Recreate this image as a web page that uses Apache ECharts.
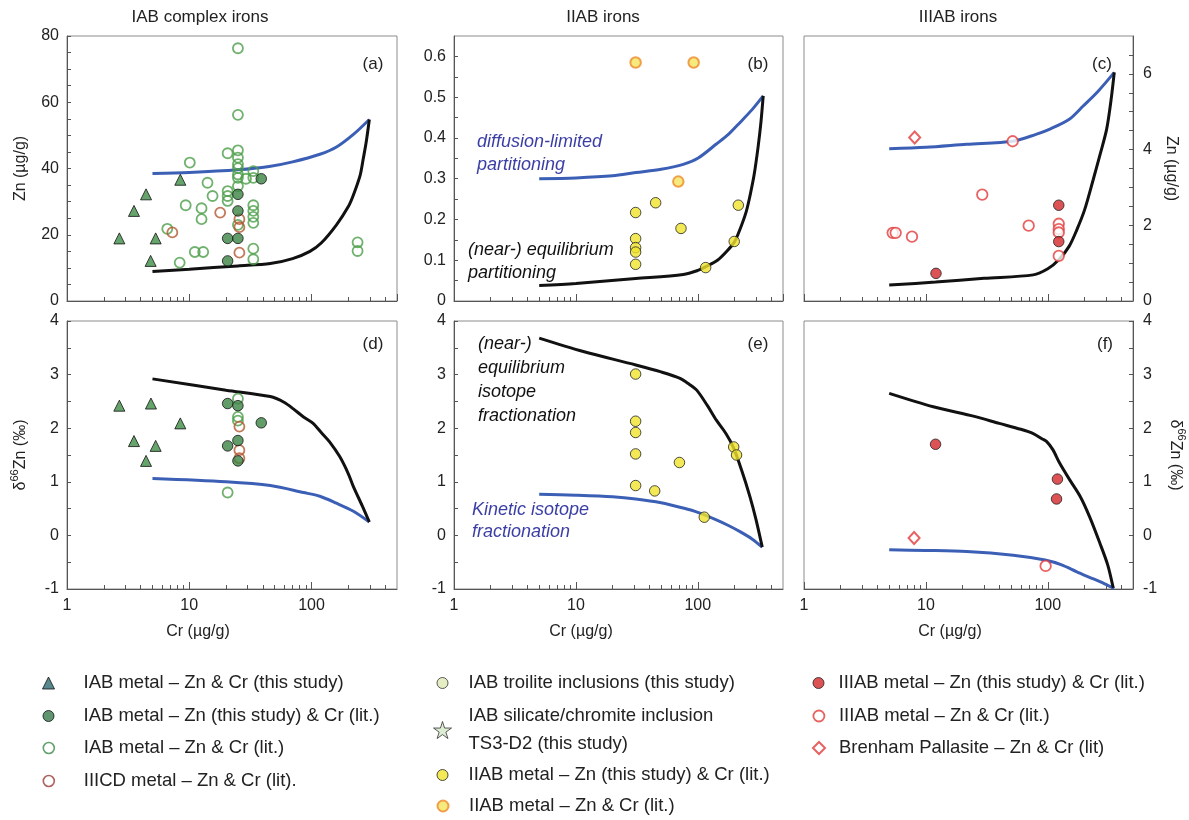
<!DOCTYPE html>
<html><head><meta charset="utf-8">
<script src="https://cdn.jsdelivr.net/npm/echarts@6/dist/echarts.min.js"></script>
<style>html,body{margin:0;padding:0;background:#fff}#c{width:1189px;height:820px}</style>
</head><body><div id="c"></div>
<script>
// ---------------- DATA (Cr µg/g, value) ----------------
// Panel (a) IAB complex irons, Zn µg/g
const iabTriZn = [[2.68,18.9],[3.53,27.2],[4.43,32.2],[5.31,18.9],[4.83,12.1],[8.45,36.6]];
const iabFilledZn = [[38.8,36.9],[25,32.2],[25,27.2],[20.6,18.9],[25,18.9],[20.6,12.1]];
const iabOpenZn = [[25,76.3],[25,56.2],[20.6,44.6],[25,45.5],[25,43.3],[25,41.3],[25,40.1],[25,38.2],[25,37.2],[25,34.7],
  [29.1,36.9],[33.4,39.2],[33.4,37.2],[10.1,41.8],[14.1,35.7],[15.5,31.7],[20.6,33.2],[20.6,31.7],[20.6,30.2],[25,23.0],
  [9.35,28.9],[12.6,28.0],[12.6,24.7],[6.61,21.8],[11.1,14.8],[13.0,14.8],[8.35,11.6],[33.4,28.9],[33.4,27.2],[33.4,25.4],
  [33.4,23.6],[33.4,15.8],[33.4,12.6],[238,17.7],[238,15.1]];
const iiicdZn = [[7.27,20.7],[17.9,26.7],[25.7,24.7],[25.7,22.3],[25.7,14.6]];
const diffCurveA = [[5,38.5],[10,38.8],[25,39.6],[45,40.6],[70,42],[117,44.3],[160,46.5],[220,50.3],[297,54.8]];
const equilCurveA = [[5,8.9],[10,9.6],[25,10.6],[46,11.3],[70,12.8],[97,15],[120,17.5],[160,23],[200,28.5],[220,32],[250,38],[265,43],[280,48],[297,54.8]];

// Panel (d) IAB, δ66Zn ‰
const iabTriD = [[2.68,2.42],[4.86,2.46],[8.45,2.09],[3.53,1.76],[5.31,1.67],[4.43,1.39]];
const iabFilledD = [[20.6,2.46],[25,2.42],[38.8,2.10],[20.6,1.67],[25,1.77],[25,1.39]];
const iabOpenD = [[25,2.55],[25,2.21],[25,2.14],[20.6,0.80]];
const iiicdD = [[25.7,2.03],[25.7,1.59],[25.7,1.44]];
const equilCurveD = [[5,2.92],[20,2.71],[46,2.59],[60,2.48],[71,2.36],[86,2.21],[103,2.09],[120,1.92],[140,1.75],[170,1.47],[200,1.15],[220,0.91],[260,0.55],[297,0.25]];
const kinCurveD = [[5,1.06],[20,1.0],[46,0.93],[86,0.8],[117,0.73],[160,0.6],[220,0.45],[297,0.25]];

// Panel (b) IIAB, Zn µg/g
const iiabZn = [[30.9,0.217],[30.9,0.153],[30.9,0.131],[30.9,0.120],[30.9,0.090],[45.1,0.241],[72.8,0.178],[215,0.235],[199,0.146],[116,0.082]];
const iiabLitZn = [[30.9,0.585],[92.5,0.585],[69.2,0.293]];
const diffCurveB = [[5,0.30],[10,0.302],[20,0.307],[31,0.315],[50,0.323],[76,0.335],[100,0.35],[142,0.385],[180,0.41],[222,0.438],[280,0.47],[344,0.503]];
const equilCurveB = [[5,0.038],[10,0.043],[31,0.055],[76,0.065],[100,0.075],[116,0.084],[145,0.1],[173,0.122],[200,0.145],[222,0.176],[250,0.22],[268,0.258],[290,0.31],[313,0.38],[330,0.44],[344,0.503]];

// Panel (e) IIAB, δ66Zn ‰
const iiabD = [[30.9,3.01],[30.9,2.13],[30.9,1.92],[30.9,1.52],[30.9,0.93],[44.3,0.83],[70.7,1.36],[197,1.65],[208,1.50],[113,0.34]];
const equilCurveE = [[5,3.68],[11.5,3.43],[31,3.18],[50,3.05],[71.5,2.93],[85,2.82],[98,2.71],[120,2.42],[142,2.15],[170,1.9],[195,1.65],[230,1.2],[268,0.72],[300,0.3],[338,-0.22]];
const kinCurveE = [[5,0.77],[10,0.75],[20,0.72],[31,0.68],[50,0.61],[76,0.51],[100,0.43],[142,0.29],[180,0.18],[222,0.07],[280,-0.07],[338,-0.22]];

// Panel (c) IIIAB, Zn µg/g
const iiiabFilledZn = [[123,2.53],[123,1.57],[12.1,0.73]];
const iiiabOpenZn = [[51.5,4.22],[29,2.81],[5.34,1.80],[5.65,1.80],[7.69,1.70],[69.7,1.99],[123,2.04],[123,1.90],[123,1.81],[123,1.19]];
const brenhamZn = [[8.09,4.32]];
const diffCurveC = [[5,4.02],[10,4.06],[21.6,4.14],[51.5,4.22],[80,4.4],[104,4.54],[150,4.8],[195,5.15],[260,5.55],[351,6.04]];
const equilCurveC = [[5,0.42],[12,0.5],[30,0.6],[76,0.69],[100,0.85],[123,1.09],[150,1.45],[173,1.88],[200,2.4],[236,3.21],[270,3.9],[304,4.54],[330,5.3],[351,6.04]];

// Panel (f) IIIAB, δ66Zn ‰
const iiiabFilledD = [[12.0,1.70],[120,1.05],[118,0.68]];
const iiiabOpenD = [[96,-0.57]];
const brenhamD = [[8.0,-0.05]];
const equilCurveF = [[5,2.65],[11.5,2.4],[25,2.22],[40,2.09],[60,1.98],[76,1.9],[90,1.8],[98,1.75],[110,1.6],[125,1.35],[150,1.05],[184,0.73],[220,0.35],[268,-0.15],[310,-0.55],[344,-0.98]];
const kinCurveF = [[5,-0.27],[10,-0.28],[21.6,-0.30],[52,-0.37],[95,-0.46],[130,-0.55],[173,-0.68],[230,-0.8],[290,-0.9],[351,-0.99]];

// ---------------- TICKS / LABELS ----------------
const minorXTicks = [2,3,4,5,6,7,8,9,20,30,40,50,60,70,80,90,200,300,400];
const ticksA = [0,5,10,15,20,25,30,35,40,45,50,55,60,65,70,75,80];
const ticksB = [0,0.05,0.1,0.15,0.2,0.25,0.3,0.35,0.4,0.45,0.5,0.55,0.6,0.65];
const ticksC = [0,0.5,1,1.5,2,2.5,3,3.5,4,4.5,5,5.5,6,6.5,7];
const ticksIso = [-1,-0.5,0,0.5,1,1.5,2,2.5,3,3.5,4];
const columnTitles = ['IAB complex irons','IIAB irons','IIIAB irons'];
const panelLabels = ['(a)','(b)','(c)','(d)','(e)','(f)'];

const N1='IAB metal – Zn & Cr (this study)', N2='IAB metal – Zn (this study) & Cr (lit.)', N3='IAB metal – Zn & Cr (lit.)',
      N4='IIICD metal – Zn & Cr (lit).', N5='IAB troilite inclusions (this study)', N6='IAB silicate/chromite inclusion TS3-D2 (this study)',
      N7='IIAB metal – Zn (this study) & Cr (lit.)', N8='IIAB metal – Zn & Cr (lit.)', N9='IIIAB metal – Zn (this study) & Cr (lit.)',
      N10='IIIAB metal – Zn & Cr (lit.)', N11='Brenham Pallasite – Zn & Cr (lit)';

// ---------------- CHART ----------------
const FF = "'Liberation Sans', Arial, Helvetica, sans-serif";
const chart = echarts.init(document.getElementById('c'), null, {renderer:'canvas'});

const gridBoxes = [
  {left:67, top:36, width:330, height:265},
  {left:454, top:36, width:329, height:265},
  {left:804, top:36, width:329, height:265},
  {left:67, top:321, width:330, height:268},
  {left:454, top:321, width:329, height:268},
  {left:804, top:321, width:329, height:268}
];
const grid = gridBoxes.map(g => Object.assign({show:true, borderColor:'#8c8c8c', borderWidth:1, backgroundColor:'transparent', containLabel:false}, g));

const xAxis = [];
for (let i=0;i<6;i++){
  xAxis.push({type:'log', logBase:10, gridIndex:i, min:1, max:500, position:'bottom',
    axisLine:{show:true, onZero:false, lineStyle:{color:'#555', width:1}},
    axisTick:{show:true, inside:true, length:7, lineStyle:{color:'#555'}},
    axisLabel:{show:i>=3, color:'#222', fontSize:16, fontFamily:FF, margin:9, showMaxLabel:false},
    splitLine:{show:false}});
}
for (let i=0;i<6;i++){
  xAxis.push({type:'log', logBase:10, gridIndex:i, min:1, max:500, position:'bottom',
    axisLine:{show:false, onZero:false},
    axisTick:{show:true, inside:true, length:4, customValues:minorXTicks, lineStyle:{color:'#555'}},
    axisLabel:{show:false}, splitLine:{show:false}});
}

const yBase = (gi, o) => Object.assign({type:'value', gridIndex:gi,
  axisLine:{show:true, onZero:false, lineStyle:{color:'#555'}},
  axisLabel:{color:'#222', fontSize:16, fontFamily:FF, margin:8},
  nameLocation:'middle', nameTextStyle:{color:'#222', fontSize:16, fontFamily:FF},
  splitLine:{show:false}}, o);
const isoName = '{n|δ}{s|66}{n|Zn (‰)}';
const isoRich = {n:{fontSize:16, fontFamily:FF, color:'#222', lineHeight:20, verticalAlign:'bottom'}, s:{fontSize:11, fontFamily:FF, color:'#222', lineHeight:20, verticalAlign:'top'}};
const yAxis = [
  yBase(0,{min:0, max:80, interval:20, name:'Zn (µg/g)', nameGap:38,
    axisTick:{show:true, inside:true, length:4, customValues:ticksA, lineStyle:{color:'#555'}}}),
  yBase(1,{min:0, max:0.65, interval:0.1,
    axisLabel:{color:'#222', fontSize:16, fontFamily:FF, margin:8, showMaxLabel:false},
    axisTick:{show:true, inside:true, length:4, customValues:ticksB, lineStyle:{color:'#555'}}}),
  yBase(2,{min:0, max:7, interval:2, position:'right', name:'Zn (µg/g)', nameGap:30, nameRotate:-90,
    axisLabel:{color:'#222', fontSize:16, fontFamily:FF, margin:10, showMaxLabel:false},
    axisTick:{show:true, inside:true, length:4, customValues:ticksC, lineStyle:{color:'#555'}}}),
  yBase(3,{min:-1, max:4, interval:1, name:isoName, nameGap:38, nameTextStyle:{rich:isoRich},
    axisTick:{show:true, inside:true, length:4, customValues:ticksIso, lineStyle:{color:'#555'}}}),
  yBase(4,{min:-1, max:4, interval:1,
    axisTick:{show:true, inside:true, length:4, customValues:ticksIso, lineStyle:{color:'#555'}}}),
  yBase(5,{min:-1, max:4, interval:1, position:'right', name:isoName, nameGap:34, nameRotate:-90, nameTextStyle:{rich:isoRich},
    axisLabel:{color:'#222', fontSize:16, fontFamily:FF, margin:10},
    axisTick:{show:true, inside:true, length:4, customValues:ticksIso, lineStyle:{color:'#555'}}})
];

const ST = {
  tri:{symbol:'triangle', symbolSize:11, itemStyle:{color:'#3e8e47', borderColor:'#111', borderWidth:1}},
  gFill:{symbol:'circle', symbolSize:10.5, itemStyle:{color:'#3b8543', borderColor:'#111', borderWidth:1}},
  gOpen:{symbol:'circle', symbolSize:10, itemStyle:{color:'rgba(255,255,255,0)', borderColor:'#4b9e49', borderWidth:1.8}},
  brown:{symbol:'circle', symbolSize:10, itemStyle:{color:'rgba(255,255,255,0)', borderColor:'#b4582f', borderWidth:1.8}},
  yel:{symbol:'circle', symbolSize:10.5, itemStyle:{color:'#f0e32c', borderColor:'#222', borderWidth:1}},
  yelLit:{symbol:'circle', symbolSize:10.5, itemStyle:{color:'#f4e35c', borderColor:'#ec8a2c', borderWidth:2}},
  rFill:{symbol:'circle', symbolSize:10.5, itemStyle:{color:'#d52729', borderColor:'#222', borderWidth:1}},
  rOpen:{symbol:'circle', symbolSize:10.5, itemStyle:{color:'#ffffff', borderColor:'#e23b3b', borderWidth:1.8}},
  diam:{symbol:'diamond', symbolSize:[11,12], itemStyle:{color:'#ffffff', borderColor:'#e23b3b', borderWidth:2}},
  trl:{symbol:'circle', symbolSize:10, itemStyle:{color:'#dfe9b4', borderColor:'#333', borderWidth:1}},
  star:{symbol:'path://M50,0 L61,35 L98,35 L68,57 L79,91 L50,70 L21,91 L32,57 L2,35 L39,35 Z', symbolSize:16, itemStyle:{color:'#d3e8c9', borderColor:'#333', borderWidth:1}}
};
const sc = (name, data, gi, st) => Object.assign({type:'scatter', name, data, xAxisIndex:gi, yAxisIndex:gi, z:3,
  emphasis:{disabled:true}}, JSON.parse(JSON.stringify(ST[st])));
const ln = (name, data, gi, color) => ({type:'line', name, data, xAxisIndex:gi, yAxisIndex:gi, z:2, symbol:'none', showSymbol:false,
  smooth:0.3, silent:true, lineStyle:{color, width:3}, emphasis:{disabled:true}});
const BLUE='#3c5fb6', BLACK='#111111';

const series = [
  ln('diffusion-limited partitioning', diffCurveA, 0, BLUE),
  ln('(near-) equilibrium partitioning', equilCurveA, 0, BLACK),
  sc(N3, iabOpenZn, 0, 'gOpen'), sc(N4, iiicdZn, 0, 'brown'), sc(N2, iabFilledZn, 0, 'gFill'), sc(N1, iabTriZn, 0, 'tri'),
  sc(N5, [], 0, 'trl'), sc(N6, [], 0, 'star'),
  ln('diffusion-limited partitioning', diffCurveB, 1, BLUE),
  ln('(near-) equilibrium partitioning', equilCurveB, 1, BLACK),
  sc(N7, iiabZn, 1, 'yel'), sc(N8, iiabLitZn, 1, 'yelLit'),
  ln('diffusion-limited partitioning', diffCurveC, 2, BLUE),
  ln('(near-) equilibrium partitioning', equilCurveC, 2, BLACK),
  sc(N10, iiiabOpenZn, 2, 'rOpen'), sc(N9, iiiabFilledZn, 2, 'rFill'), sc(N11, brenhamZn, 2, 'diam'),
  ln('Kinetic isotope fractionation', kinCurveD, 3, BLUE),
  ln('(near-) equilibrium isotope fractionation', equilCurveD, 3, BLACK),
  sc(N3, iabOpenD, 3, 'gOpen'), sc(N4, iiicdD, 3, 'brown'), sc(N2, iabFilledD, 3, 'gFill'), sc(N1, iabTriD, 3, 'tri'),
  ln('Kinetic isotope fractionation', kinCurveE, 4, BLUE),
  ln('(near-) equilibrium isotope fractionation', equilCurveE, 4, BLACK),
  sc(N7, iiabD, 4, 'yel'),
  ln('Kinetic isotope fractionation', kinCurveF, 5, BLUE),
  ln('(near-) equilibrium isotope fractionation', equilCurveF, 5, BLACK),
  sc(N10, iiiabOpenD, 5, 'rOpen'), sc(N9, iiiabFilledD, 5, 'rFill'), sc(N11, brenhamD, 5, 'diam')
];

// legend: one component per entry, placed in three columns
const legItems = [
  {name:N1, st:'tri', icon:'triangle', cx:48, cy:683, tx:83, size:12, ist:{color:'#2e6c72', borderColor:'#111', borderWidth:1}},
  {name:N2, st:'gFill', icon:'circle', cx:48, cy:716, tx:83, ist:{color:'#3a7a4c', borderColor:'#111', borderWidth:1}},
  {name:N3, st:'gOpen', icon:'circle', cx:48, cy:748, tx:83, ist:{color:'#fff', borderColor:'#3f8a4a', borderWidth:1.6}},
  {name:N4, st:'brown', icon:'circle', cx:48, cy:781, tx:83, ist:{color:'#fff', borderColor:'#9a3a36', borderWidth:1.6}},
  {name:N5, st:'trl', icon:'circle', cx:442, cy:683, tx:468},
  {name:N6, st:'star', icon:ST.star.symbol, cx:442, cy:730, tx:468, size:18, two:true},
  {name:N7, st:'yel', icon:'circle', cx:442, cy:775, tx:468},
  {name:N8, st:'yelLit', icon:'circle', cx:442, cy:806, tx:468},
  {name:N9, st:'rFill', icon:'circle', cx:818, cy:683, tx:838},
  {name:N10, st:'rOpen', icon:'circle', cx:818, cy:716, tx:838},
  {name:N11, st:'diam', icon:'diamond', cx:818, cy:748, tx:838, size:12}
];
const legend = legItems.map(it => {
  const s = it.size || 11;
  const lh = it.two ? 28 : 20;
  const h = it.two ? 2*lh : lh;
  return {
    data:[{name:it.name, icon:it.icon, itemStyle: it.ist || ST[it.st].itemStyle}],
    left: it.cx - s/2, top: it.cy - h/2, orient:'vertical', padding:0,
    itemWidth:s, itemHeight:s, selectedMode:false,
    formatter: n => it.two ? n.replace(' TS3', '\nTS3') : n,
    textStyle:{fontSize:18.5, fontFamily:FF, color:'#222', lineHeight:lh, padding:[0,0,0, it.tx - (it.cx + s/2) - 5]}
  };
});

const txt = (x, y, text, o) => ({type:'text', x, y, silent:true, style:Object.assign({text, fill:'#222', fontSize:17, fontFamily:FF,
  align:'center', verticalAlign:'middle', textAlign:'center', textVerticalAlign:'middle'}, o||{})});
const graphic = [
  txt(200, 17, columnTitles[0]), txt(603, 17, columnTitles[1]), txt(958, 17, columnTitles[2]),
  txt(373, 64, panelLabels[0]), txt(758, 64, panelLabels[1]), txt(1102, 64, panelLabels[2]),
  txt(373, 344, panelLabels[3]), txt(758, 344, panelLabels[4]), txt(1105, 344, panelLabels[5]),
  txt(477, 153, 'diffusion-limited\npartitioning', {fill:'#3b3fa5', fontStyle:'italic', fontSize:18, lineHeight:23, align:'left', textAlign:'left'}),
  txt(468, 261, '(near-) equilibrium\npartitioning', {fill:'#111', fontStyle:'italic', fontSize:18, lineHeight:23, align:'left', textAlign:'left'}),
  txt(478, 380, '(near-)\nequilibrium\nisotope\nfractionation', {fill:'#111', fontStyle:'italic', fontSize:18, lineHeight:24, align:'left', textAlign:'left'}),
  txt(472, 521, 'Kinetic isotope\nfractionation', {fill:'#3b3fa5', fontStyle:'italic', fontSize:18, lineHeight:22, align:'left', textAlign:'left'}),
  txt(198, 632, 'Cr (µg/g)', {fontSize:16}), txt(581, 632, 'Cr (µg/g)', {fontSize:16}), txt(950, 632, 'Cr (µg/g)', {fontSize:16})
];

chart.setOption({animation:false, backgroundColor:'#fff', textStyle:{fontFamily:FF},
  grid, xAxis, yAxis, series, legend, graphic});
</script></body></html>
